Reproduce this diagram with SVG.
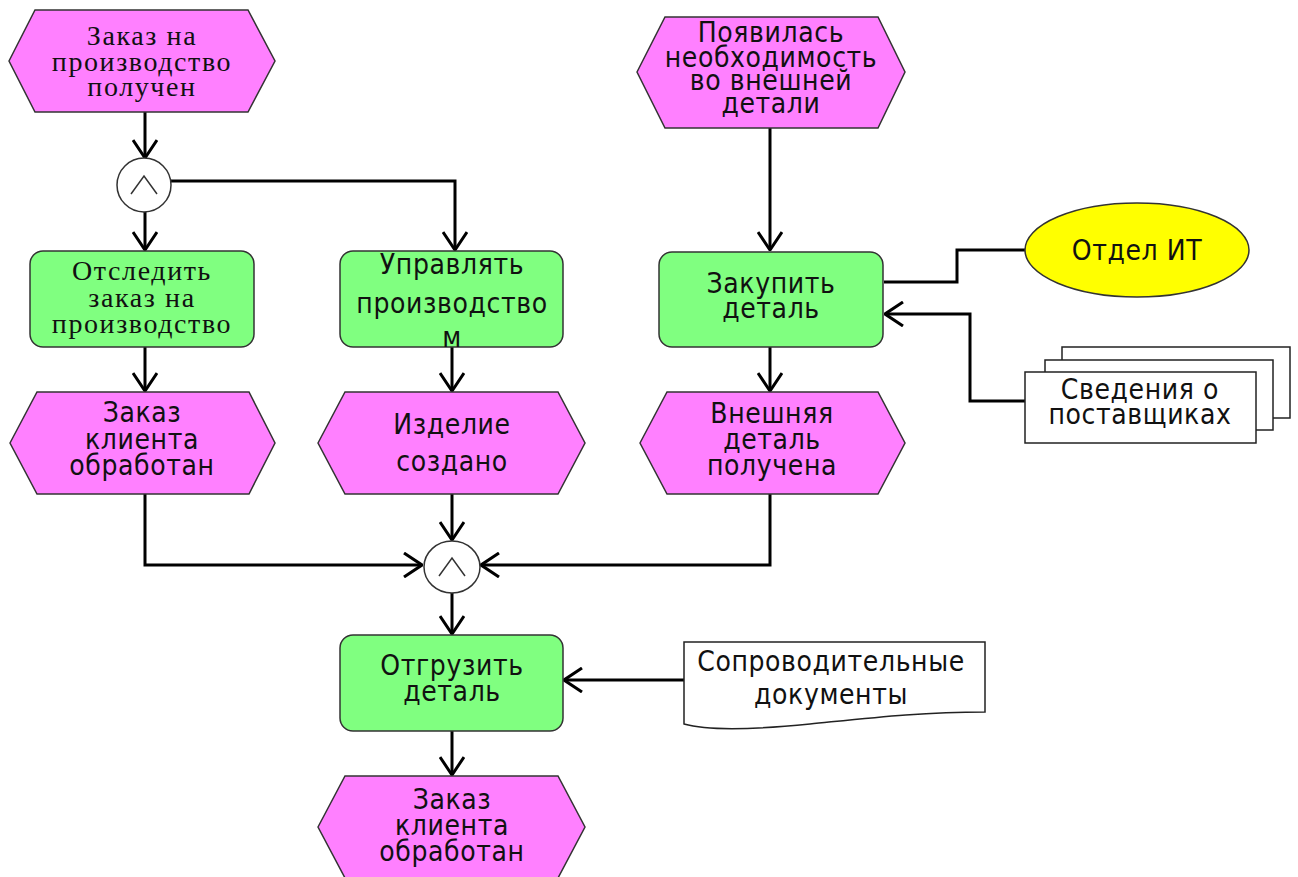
<svg xmlns="http://www.w3.org/2000/svg" width="1298" height="877" viewBox="0 0 1298 877">
<style>
.ev{fill:#ff80ff;stroke:#333;stroke-width:1.5}
.fn{fill:#80ff80;stroke:#333;stroke-width:1.5}
.op{fill:#fff;stroke:#333;stroke-width:1.5}
.sym{fill:none;stroke:#333;stroke-width:1.5}
.doc{fill:#fff;stroke:#222;stroke-width:1.5}
.org{fill:#ffff00;stroke:#333;stroke-width:1.5}
.c{fill:none;stroke:#000;stroke-width:3}
.a{marker-end:url(#arr)}
.s{font-family:"DejaVu Sans Condensed","DejaVu Sans",sans-serif;font-size:28px;letter-spacing:0.6px;fill:#111;text-anchor:middle}
.r{font-family:"Liberation Serif",serif;font-size:28px;letter-spacing:1.6px;fill:#111;text-anchor:middle}
</style>
<defs>
<marker id="arr" markerUnits="userSpaceOnUse" viewBox="0 0 20 26" refX="19" refY="13" markerWidth="20" markerHeight="26" orient="auto">
<path d="M1,1 L19,13 L1,25" fill="none" stroke="#000" stroke-width="3"/>
</marker>
</defs>
<g id="connectors">
<path class="c a" d="M145,112 V158"/>
<path class="c a" d="M145,212 V250"/>
<path class="c a" d="M171,181 H455 V250"/>
<path class="c a" d="M145,347 V391"/>
<path class="c a" d="M452,347 V391"/>
<path class="c a" d="M770,128 V250"/>
<path class="c a" d="M770,347 V391"/>
<path class="c" d="M884,282 H957 V250 H1026"/>
<path class="c a" d="M1025,401 H970 V314 H885"/>
<path class="c a" d="M145,494 V565 H422"/>
<path class="c a" d="M452,494 V540"/>
<path class="c a" d="M770,494 V565 H481"/>
<path class="c a" d="M452,593 V634"/>
<path class="c a" d="M684,680 H564"/>
<path class="c a" d="M452,731 V775"/>
</g>
<g id="ev1">
<polygon class="ev" points="9,61 35,10 248,10 275,61 248,112 35,112"/>
<text class="r" x="142" y="45">Заказ на</text>
<text class="r" x="142" y="71">производство</text>
<text class="r" x="142" y="96">получен</text>
</g>
<g id="and1">
<circle class="op" cx="144" cy="185" r="27"/>
<polyline class="sym" points="131,194 144,176 157,194"/>
</g>
<g id="fn1">
<rect class="fn" x="30" y="251" width="224" height="96" rx="13"/>
<text class="r" x="142" y="280">Отследить</text>
<text class="r" x="142" y="307">заказ на</text>
<text class="r" x="142" y="333">производство</text>
</g>
<g id="fn2">
<rect class="fn" x="340" y="251" width="223" height="96" rx="13"/>
<text class="s" x="452" y="274">Управлять</text>
<text class="s" x="452" y="313">производство</text>
<text class="s" x="452" y="347">м</text>
</g>
<g id="ev2">
<polygon class="ev" points="637,72 665,17 878,17 905,72 878,128 665,128"/>
<text class="s" x="771" y="42">Появилась</text>
<text class="s" x="771" y="67">необходимость</text>
<text class="s" x="771" y="90">во внешней</text>
<text class="s" x="771" y="113">детали</text>
</g>
<g id="fn3">
<rect class="fn" x="659" y="252" width="224" height="95" rx="13"/>
<text class="s" x="771" y="293">Закупить</text>
<text class="s" x="771" y="318">деталь</text>
</g>
<g id="org">
<ellipse class="org" cx="1137" cy="250" rx="112" ry="47"/>
<text class="s" x="1137" y="260">Отдел ИТ</text>
</g>
<g id="info">
<rect class="doc" x="1062" y="347" width="228" height="71"/>
<rect class="doc" x="1045" y="360" width="228" height="70"/>
<rect class="doc" x="1025" y="372" width="231" height="71"/>
<text class="s" x="1140" y="399">Сведения о</text>
<text class="s" x="1140" y="424">поставщиках</text>
</g>
<g id="ev3">
<polygon class="ev" points="10,443 37,392 249,392 275,443 249,494 37,494"/>
<text class="s" x="142" y="422">Заказ</text>
<text class="s" x="142" y="449">клиента</text>
<text class="s" x="142" y="475">обработан</text>
</g>
<g id="ev4">
<polygon class="ev" points="318,443 345,392 558,392 585,443 558,494 345,494"/>
<text class="s" x="452" y="434">Изделие</text>
<text class="s" x="452" y="471">создано</text>
</g>
<g id="ev5">
<polygon class="ev" points="640,443 667,392 878,392 905,443 878,494 667,494"/>
<text class="s" x="772" y="423">Внешняя</text>
<text class="s" x="772" y="449">деталь</text>
<text class="s" x="772" y="475">получена</text>
</g>
<g id="and2">
<ellipse class="op" cx="452" cy="567" rx="28" ry="26"/>
<polyline class="sym" points="439,576 452,558 465,576"/>
</g>
<g id="fn4">
<rect class="fn" x="340" y="635" width="223" height="96" rx="13"/>
<text class="s" x="452" y="675">Отгрузить</text>
<text class="s" x="452" y="701">деталь</text>
</g>
<g id="docs">
<path class="doc" d="M684,642 H985 V712 C920,712 870,718 810,724 C750,730 705,730 684,724 Z"/>
<text class="s" x="831" y="671">Сопроводительные</text>
<text class="s" x="831" y="704">документы</text>
</g>
<g id="ev6">
<polygon class="ev" points="318,827 345,776 558,776 585,827 558,878 345,878"/>
<text class="s" x="452" y="809">Заказ</text>
<text class="s" x="452" y="835">клиента</text>
<text class="s" x="452" y="861">обработан</text>
</g>
</svg>
